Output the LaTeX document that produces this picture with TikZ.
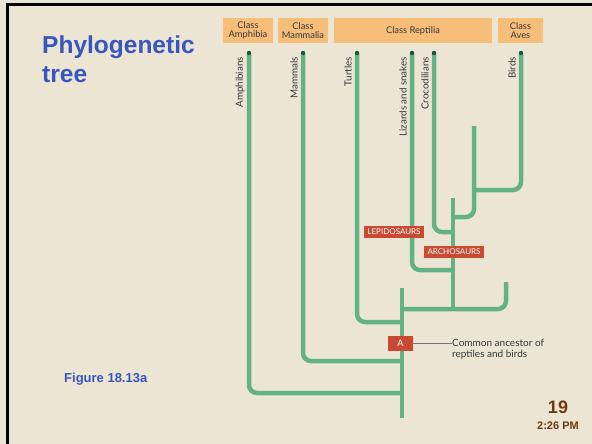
\documentclass[tikz,border=0pt]{standalone}
\usepackage{fontspec}
\setmainfont{Liberation Sans}
\newfontfamily\figfont{Lato}
\definecolor{slidebg}{RGB}{236,229,212}
\definecolor{classorange}{RGB}{247,190,122}
\definecolor{treegreen}{RGB}{98,178,131}
\definecolor{tipgreen}{RGB}{24,84,64}
\definecolor{cladered}{RGB}{200,74,50}
\definecolor{titleblue}{RGB}{55,86,192}
\definecolor{pagebrown}{RGB}{110,58,14}
\definecolor{labelgray}{RGB}{55,55,55}
\begin{document}
\begin{tikzpicture}[x=1pt,y=-1pt,
  branch/.style={draw=treegreen,line width=4.5pt,rounded corners=8pt},
  classbox/.style={fill=classorange,inner sep=0pt,align=center,
    font=\figfont\fontsize{9.3}{9.6}\selectfont,text=labelgray},
  taxon/.style={rotate=90,anchor=east,inner sep=0pt,
    font=\figfont\fontsize{9.8}{10}\selectfont,text=labelgray},
  clade/.style={fill=cladered,text=white,inner sep=0pt,
    font=\figfont\fontsize{8}{9}\selectfont}]
% slide background and frame
\useasboundingbox (0,0) rectangle (592,444);
\fill[slidebg] (0,0) rectangle (592,444);
\draw[black,line width=3pt] (7.5,444) -- (7.5,4.5) -- (592,4.5);

% slide texts
\node[anchor=base west,inner sep=0pt,text=titleblue,align=left,
  font=\fontsize{24.5}{29}\selectfont\bfseries] (title) at (42,83)
  {Phylogenetic\\tree};
\node[anchor=base west,inner sep=0pt,text=titleblue,
  font=\fontsize{13}{15}\selectfont\bfseries] (fig) at (64,382) {Figure 18.13a};
\node[anchor=base,inner sep=0pt,text=pagebrown,
  font=\fontsize{18}{20}\selectfont\bfseries] (page) at (558,413) {19};
\node[anchor=base,inner sep=0pt,text=pagebrown,
  font=\fontsize{11}{13}\selectfont\bfseries] (time) at (558,429) {2:26 PM};

% class headers
\node[classbox,minimum width=50pt,minimum height=25pt] (camph) at (248,30.5) {Class\\Amphibia};
\node[classbox,minimum width=50pt,minimum height=25pt] (cmamm) at (303,30.5) {Class\\Mammalia};
\node[classbox,minimum width=158pt,minimum height=25pt] (crept) at (413,30.5) {Class Reptilia};
\node[classbox,minimum width=45pt,minimum height=25pt] (caves) at (520.5,30.5) {Class\\Aves};

% tips of living groups
\coordinate (amph) at (249,53);
\coordinate (mamm) at (303,53);
\coordinate (turt) at (357,53);
\coordinate (liz) at (412,53);
\coordinate (croc) at (434,53);
\coordinate (bird) at (521,53);
% ends of extinct lineages
\coordinate (ext1) at (474,126);
\coordinate (ext2) at (453,198);
\coordinate (ext3) at (506,282);
\coordinate (ext4) at (402,288);
% branch points
\coordinate (jbird) at (474,190);
\coordinate (jext1) at (453,217);
\coordinate (jcroc) at (453,232);
\coordinate (jliz) at (453,270);
\coordinate (jrep) at (453,309);
\coordinate (jsaur) at (402,309);
\coordinate (jturt) at (402,322);
\coordinate (jmamm) at (402,361);
\coordinate (jamph) at (402,393);
\coordinate (root) at (402,418);

% branches
\draw[branch] (bird) |- (jbird);
\draw[branch] (ext1) |- (jext1);
\draw[branch] (ext2) -- (jrep);
\draw[branch] (croc) |- (jcroc);
\draw[branch] (liz) |- (jliz);
\draw[branch] (jsaur) -| (ext3);
\draw[branch] (ext4) -- (root);
\draw[branch] (turt) |- (jturt);
\draw[branch] (mamm) |- (jmamm);
\draw[branch] (amph) |- (jamph);

% tip dots
\foreach \t in {amph,mamm,turt,liz,croc,bird}
  \fill[tipgreen] (\t) circle (2.2pt);

% taxon names
\node[taxon] (lamph) at (240,57) {Amphibians};
\node[taxon] (lmamm) at (294,57) {Mammals};
\node[taxon] (lturt) at (348,57) {Turtles};
\node[taxon] (lliz) at (403,57) {Lizards and snakes};
\node[taxon] (lcroc) at (425,57) {Crocodilians};
\node[taxon] (lbird) at (512,57) {Birds};

% clade labels
\node[clade,minimum width=60pt,minimum height=12pt] (lepi) at (394,232) {LEPIDOSAURS};
\node[clade,minimum width=60pt,minimum height=12pt] (arch) at (454,252) {ARCHOSAURS};

% common ancestor
\node[clade,minimum width=25pt,minimum height=15pt,
  font=\figfont\fontsize{9}{10}\selectfont] (anc) at (400.5,343.5) {A};
\node[anchor=west,inner sep=0pt,align=left,text=labelgray,
  font=\figfont\fontsize{10}{11.5}\selectfont] (anctext) at (452,349)
  {Common ancestor of\\reptiles and birds};
\draw[labelgray!70,line width=0.8pt] (anc.east) -- (anc.east -| anctext.west);
\end{tikzpicture}
\end{document}
